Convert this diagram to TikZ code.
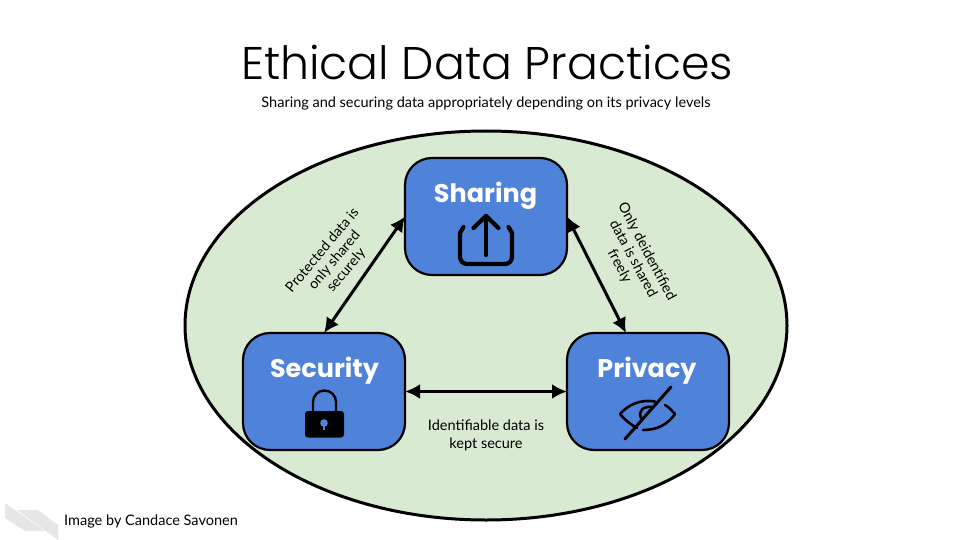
\documentclass[tikz,border=0pt]{standalone}
\usepackage{fontspec}
\setmainfont{Lato}
\newfontfamily\titlefont{Poppins Light}
\newfontfamily\headfont{Poppins Bold}
\usetikzlibrary{arrows.meta,calc}
\definecolor{ellfill}{HTML}{D9EAD3}
\definecolor{boxfill}{HTML}{4F82D9}
\definecolor{logogray}{HTML}{E6E6E6}
\tikzset{
  x=1pt,y=1pt,
  topic/.style={draw=black,line width=2.2pt,fill=boxfill,rounded corners=27pt,minimum width=162pt,minimum height=117pt,inner sep=0pt,outer sep=0pt},
  link/.style={line width=3pt,{Latex[length=15pt,width=15pt]}-{Latex[length=15pt,width=15pt]}},
  head/.style={text=white,font=\headfont\fontsize{25.5}{28}\selectfont,inner sep=0pt},
  note/.style={font=\fontsize{14.5}{18}\selectfont,align=center,inner sep=0pt},
  slantnote/.style={font=\fontsize{14.2}{15.5}\selectfont,align=center,inner sep=0pt},
  icon/.style={line width=4.2pt,line cap=round,line join=round,draw=black},
}
\begin{document}
\begin{tikzpicture}
\useasboundingbox (0,0) rectangle (960,-540);
\node[font=\titlefont\fontsize{45.8}{50}\selectfont,inner sep=0pt] (title) at (487,-62) {Ethical Data Practices};
\node[font=\fontsize{14.5}{17}\selectfont,inner sep=0pt] (sub) at (486,-103) {Sharing and securing data appropriately depending on its privacy levels};
\draw[line width=3pt,fill=ellfill] (486,-325.5) ellipse [x radius=301,y radius=194.5];
\node[topic] (sharing) at (486,-216.5) {};
\node[topic] (security) at (324,-391.5) {};
\node[topic] (privacy) at (648,-391.5) {};
\node[head] (lsharing) at (485.5,-196) {Sharing};
\node[head] (lsecurity) at (324.5,-371) {Security};
\node[head] (lprivacy) at (647,-371) {Privacy};
\coordinate (pin) at ($(privacy.north)+(-22,0)$);
\draw[link] (sharing.west) -- (security.north);
\draw[link] (sharing.east) -- (pin);
\draw[link] (security.east) -- (privacy.west);
\node[slantnote,rotate=50] (n1) at (334.5,-260.5) {Protected data is\\only shared\\securely};
\node[slantnote,rotate=-62] (n2) at (633,-259) {Only deidentified\\data is shared\\freely};
\node[note] (n3) at (486,-435.5) {Identifiable data is\\kept secure};
% share icon
\draw[icon] (463.5,-227) -- (460,-233) -- (460,-257) arc[start angle=180,end angle=270,radius=7] -- (505,-264) arc[start angle=270,end angle=360,radius=7] -- (512,-233) -- (508.5,-227);
\draw[icon] (486,-255) -- (486,-216);
\draw[icon] (473.5,-228) -- (486,-216) -- (498.5,-228);
% lock icon
\fill[black,rounded corners=3pt] (305,-411) rectangle (344,-437.5);
\draw[line width=2.4pt,draw=black] (313,-411) -- (313,-402) arc[start angle=180,end angle=0,radius=11.5] -- (336,-411);
\fill[boxfill] (324,-423) circle (3.8);
\draw[boxfill,line width=1.8pt] (324,-424) -- (324,-430);
% eye icon
\draw[line width=2.6pt,line cap=round,line join=round] (655,-401.5) .. controls (640,-399) and (628,-405) .. (620,-414) .. controls (625,-420) and (630,-424) .. (637,-428);
\draw[line width=2.6pt,line cap=round,line join=round] (665,-405) .. controls (669,-407) and (672,-411) .. (675,-414) .. controls (668,-424) and (658,-430) .. (643,-430);
\draw[line width=2.6pt,line cap=round] (641,-418) .. controls (638,-411) and (643,-406) .. (652,-407);
\draw[icon,line width=3pt] (671,-387) -- (625,-439);
% logo
\fill[logogray] (5,-503) -- (45,-531) -- (25,-531) -- (5,-518) -- cycle;
\fill[logogray] (17,-510) -- (38,-510) -- (58,-525) -- (58,-540) -- (46,-531) -- cycle;
\node[font=\fontsize{14.5}{17}\selectfont,inner sep=0pt,anchor=west] (credit) at (64,-521) {Image by Candace Savonen};
\end{tikzpicture}
\end{document}
